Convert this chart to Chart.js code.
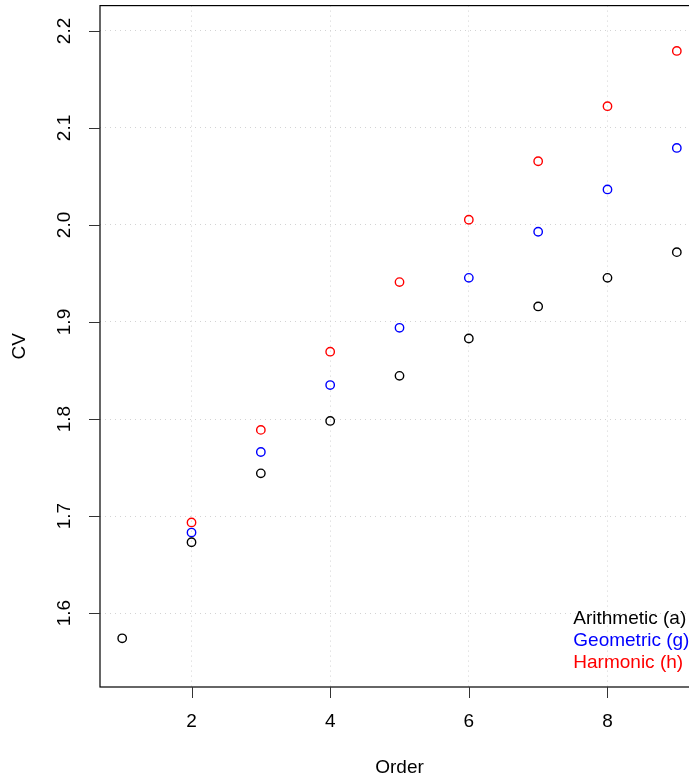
<!DOCTYPE html>
<html>
<head>
<meta charset="utf-8">
<script src="https://cdn.jsdelivr.net/npm/chart.js@4.4.1/dist/chart.umd.min.js"></script>
<style>
  html, body { margin: 0; padding: 0; background: #fff; overflow: hidden; }
  #view { position: absolute; left: 0; top: 0; width: 689px; height: 778px; overflow: hidden; }
  #wrap { position: absolute; left: 0; top: 0; width: 720px; height: 778px; }
</style>
</head>
<body>
<div id="view"><div id="wrap"><canvas id="cv"></canvas></div></div>
<script>
// CV by order for three kinds of mean
const orders     = [1, 2, 3, 4, 5, 6, 7, 8, 9];
const arithmetic = [1.574, 1.673, 1.744, 1.798, 1.8445, 1.883, 1.916, 1.9455, 1.972];
const geometric  = [null, 1.683, 1.766, 1.835, 1.894, 1.9455, 1.993, 2.0366, 2.0794];
const harmonic   = [null, 1.6934, 1.7888, 1.8694, 1.9411, 2.0054, 2.0657, 2.1224, 2.1794];

const seriesNames  = ['Arithmetic (a)', 'Geometric (g)', 'Harmonic (h)'];
const seriesColors = ['#000000', '#0000ff', '#ff0000'];

const xTicks = [2, 4, 6, 8];
const yTicks = [1.6, 1.7, 1.8, 1.9, 2.0, 2.1, 2.2];
const yTickLabels = ['1.6', '1.7', '1.8', '1.9', '2.0', '2.1', '2.2'];

const FONT = '"Liberation Sans", Arial, Helvetica, sans-serif';
Chart.defaults.font.family = FONT;

function pairs(vals) {
  const out = [];
  vals.forEach((v, i) => { if (v !== null) out.push({ x: orders[i], y: v }); });
  return out;
}

const datasets = [arithmetic, geometric, harmonic].map((vals, i) => ({
  label: seriesNames[i],
  data: pairs(vals),
  showLine: false,
  pointStyle: 'circle',
  pointRadius: 4.2,
  pointHoverRadius: 4.2,
  pointBorderWidth: 1.4,
  pointBorderColor: seriesColors[i],
  pointBackgroundColor: 'rgba(0,0,0,0)',
  borderColor: seriesColors[i],
  backgroundColor: 'rgba(0,0,0,0)'
}));

// Box, tick marks, tick labels, axis titles and the text legend, in base-graphics style
const frame = {
  id: 'frame',
  afterDraw(chart) {
    const ctx = chart.ctx;
    const a = chart.chartArea;
    const xs = chart.scales.x, ys = chart.scales.y;
    ctx.save();

    // plot box
    ctx.strokeStyle = '#000';
    ctx.lineWidth = 1.2;
    ctx.strokeRect(a.left, a.top, a.right - a.left, a.bottom - a.top);

    // tick marks
    ctx.strokeStyle = '#333';
    ctx.lineWidth = 1;
    ctx.beginPath();
    xTicks.forEach(v => {
      const px = Math.round(xs.getPixelForValue(v)) + 0.5;
      ctx.moveTo(px, a.bottom); ctx.lineTo(px, a.bottom + 11);
    });
    yTicks.forEach(v => {
      const py = Math.round(ys.getPixelForValue(v)) + 0.5;
      ctx.moveTo(a.left, py); ctx.lineTo(a.left - 11, py);
    });
    ctx.stroke();

    // tick labels
    ctx.fillStyle = '#000';
    ctx.font = '19px ' + FONT;
    ctx.textAlign = 'center';
    ctx.textBaseline = 'middle';
    xTicks.forEach(v => ctx.fillText(String(v), xs.getPixelForValue(v), a.bottom + 35));
    yTicks.forEach((v, i) => {
      ctx.save();
      ctx.translate(a.left - 35, ys.getPixelForValue(v));
      ctx.rotate(-Math.PI / 2);
      ctx.fillText(yTickLabels[i], 0, 0);
      ctx.restore();
    });

    // axis titles
    ctx.fillText('Order', (a.left + a.right) / 2, a.bottom + 81);
    ctx.save();
    ctx.translate(a.left - 80, (a.top + a.bottom) / 2);
    ctx.rotate(-Math.PI / 2);
    ctx.fillText('CV', 0, 0);
    ctx.restore();

    // legend (text only, bottom right)
    ctx.textAlign = 'left';
    seriesNames.forEach((name, i) => {
      ctx.fillStyle = seriesColors[i];
      ctx.fillText(name, a.right - 125.7, a.bottom - 68.4 + i * 22.2);
    });

    ctx.restore();
  }
};

new Chart(document.getElementById('cv'), {
  type: 'scatter',
  data: { datasets },
  options: {
    responsive: true,
    maintainAspectRatio: false,
    animation: false,
    events: [],
    layout: { padding: { left: 100, top: 5, right: 21, bottom: 91 } },
    plugins: { legend: { display: false }, tooltip: { enabled: false } },
    scales: {
      x: {
        type: 'linear',
        min: 0.68, max: 9.32,
        afterBuildTicks: s => { s.ticks = xTicks.map(v => ({ value: v })); },
        ticks: { display: false },
        grid: { color: '#d3d3d3', lineWidth: 1, drawTicks: false },
        border: { display: false, dash: [1, 4] }
      },
      y: {
        type: 'linear',
        min: 1.5238, max: 2.2261,
        afterBuildTicks: s => { s.ticks = yTicks.map(v => ({ value: v })); },
        ticks: { display: false },
        grid: { color: '#d3d3d3', lineWidth: 1, drawTicks: false },
        border: { display: false, dash: [1, 4] }
      }
    }
  },
  plugins: [frame]
});
</script>
</body>
</html>
